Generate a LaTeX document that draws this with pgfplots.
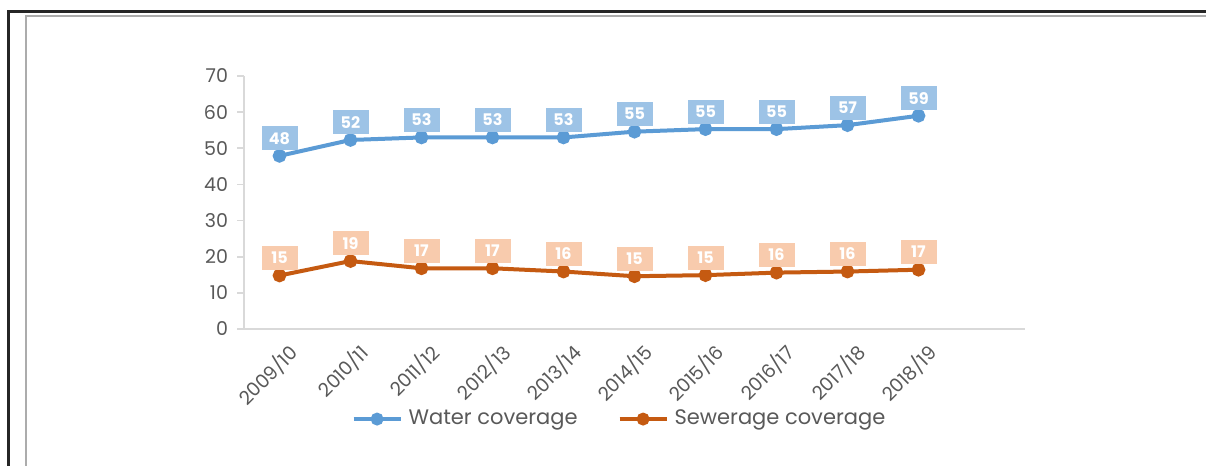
\documentclass[border=0pt]{standalone}
\usepackage{fontspec}
\setmainfont{Poppins}
\usepackage{pgfplots}
\pgfplotsset{compat=1.18}
\definecolor{cWater}{HTML}{5B9BD5}
\definecolor{cSewer}{HTML}{C55A11}
\definecolor{cWaterLbl}{HTML}{9DC3E6}
\definecolor{cSewerLbl}{HTML}{F8CBAD}
\definecolor{cText}{HTML}{595959}
\definecolor{cAxis}{HTML}{D9D9D9}
\begin{document}
\begin{tikzpicture}
% canvas: 1 px of the reference = 0.5pt
\useasboundingbox (0,0) rectangle (603pt,233pt);
\fill[white] (0,0) rectangle (603pt,233pt);
% screenshot frame
\draw[black!85, line width=1.5pt] (4.25pt,0) -- (4.25pt,227pt) -- (603pt,227pt);
\draw[gray!65, line width=1pt] (12.75pt,0) -- (12.75pt,225pt) -- (603pt,225pt);

\begin{axis}[
  at={(122pt,68.5pt)}, anchor=south west,
  scale only axis, width=390.5pt, height=126.5pt,
  xmin=-0.5, xmax=10.5, ymin=0, ymax=70,
  axis x line=bottom, axis y line=left,
  axis line style={cAxis, line width=0.8pt, -},
  xtick={0,...,9},
  xticklabels={2009/10,2010/11,2011/12,2012/13,2013/14,2014/15,2015/16,2016/17,2017/18,2018/19},
  ytick={0,10,...,70},
  major tick length=3.5pt,
  xtick style={draw=none},
  ytick style={cAxis, line width=0.8pt},
  tick align=outside,
  /pgf/number format/assume math mode=true,
  y tick label style={font=\fontsize{9.5}{10}\selectfont, text=cText, xshift=-1pt},
  x tick label style={font=\fontsize{9.5}{10}\selectfont, text=cText, rotate=45, anchor=north east, xshift=4pt, yshift=-1pt},
  clip=false,
  legend columns=2,
  legend style={at={(0.482,-0.356)}, anchor=center, draw=none, fill=none,
                font=\fontsize{10.5}{11}\selectfont, text=cText,
                /tikz/every odd column/.append style={column sep=1pt},
                /tikz/every even column/.append style={column sep=18pt}},
  legend image code/.code={%
    \draw[#1, mark=none] (0pt,0pt) -- (23.5pt,0pt);
    \draw[#1, only marks, mark size=2.2pt] plot coordinates {(11.75pt,0pt)};},
  nodes near coords,
  point meta=explicit symbolic,
  every node near coord/.append style={
    font=\fontsize{8}{8}\selectfont\bfseries, text=white,
    minimum width=18pt, minimum height=12pt, inner sep=0pt,
    anchor=south, yshift=1.8pt},
]
\addplot[cWater, line width=2pt, mark=*, mark size=2.4pt,
  every node near coord/.append style={fill=cWaterLbl}]
  coordinates {
  (0,47.9)[48] (1,52.3)[52] (2,53.0)[53] (3,53.0)[53] (4,53.0)[53]
  (5,54.6)[55] (6,55.3)[55] (7,55.3)[55] (8,56.4)[57] (9,59.0)[59]
};
\addlegendentry{Water coverage}
\addplot[cSewer, line width=2pt, mark=*, mark size=2.4pt,
  every node near coord/.append style={fill=cSewerLbl}]
  coordinates {
  (0,14.8)[15] (1,18.8)[19] (2,16.8)[17] (3,16.8)[17] (4,15.9)[16]
  (5,14.6)[15] (6,14.9)[15] (7,15.6)[16] (8,15.9)[16] (9,16.4)[17]
};
\addlegendentry{Sewerage coverage}
\end{axis}
\end{tikzpicture}
\end{document}
